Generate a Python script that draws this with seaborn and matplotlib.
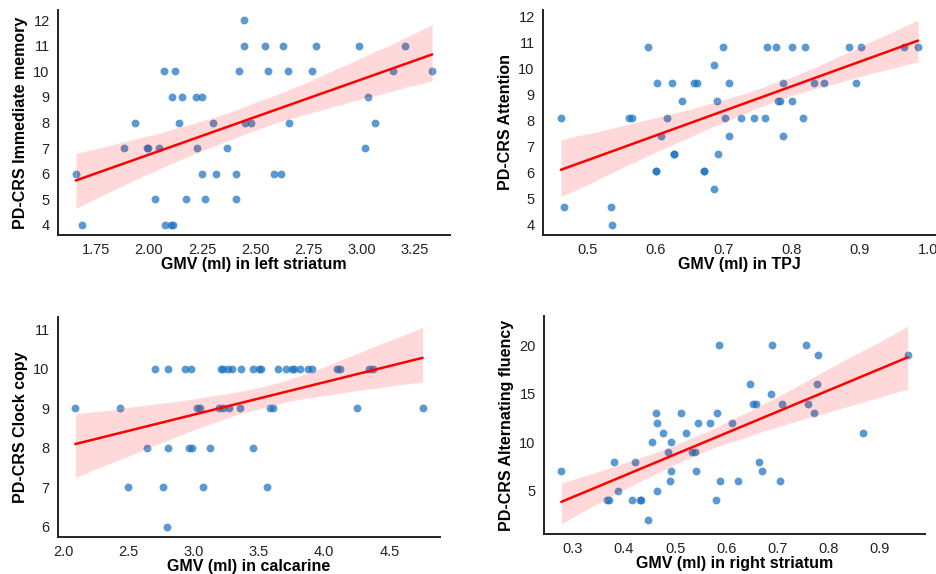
import pandas as pd
import matplotlib.pyplot as plt
import matplotlib.ticker as mticker
import seaborn as sns

# Immediate memory vs GMV in left striatum
memoria_gmv = [2.447,
               2.447, 2.546, 2.630, 2.785, 2.990, 3.205,
               2.072, 2.121, 2.422, 2.559, 2.656, 2.769, 3.146, 3.332,
               2.108, 2.157, 2.223, 2.249, 3.030,
               1.932, 2.141, 2.300, 2.450, 2.479, 2.658, 3.061,
               1.883, 1.989, 1.994, 2.045, 2.227, 2.366, 3.016,
               1.656, 2.248, 2.315, 2.411, 2.587, 2.622,
               2.028, 2.176, 2.262, 2.411,
               1.687, 2.077, 2.105, 2.111]
memoria_score = [12,
                 11, 11, 11, 11, 11, 11,
                 10, 10, 10, 10, 10, 10, 10, 10,
                 9, 9, 9, 9, 9,
                 8, 8, 8, 8, 8, 8, 8,
                 7, 7, 7, 7, 7, 7, 7,
                 6, 6, 6, 6, 6, 6,
                 5, 5, 5, 5,
                 4, 4, 4, 4]

# Attention vs GMV in TPJ
atencao_gmv = [0.588, 0.699, 0.764, 0.777, 0.801, 0.819, 0.884, 0.902, 0.965, 0.986,
               0.685,
               0.602, 0.623, 0.656, 0.661, 0.708, 0.787, 0.833, 0.848, 0.894,
               0.638, 0.690, 0.779, 0.783, 0.800,
               0.460, 0.561, 0.565, 0.616, 0.701, 0.725, 0.745, 0.761, 0.816,
               0.607, 0.708, 0.787,
               0.626, 0.626, 0.691,
               0.600, 0.600, 0.670, 0.670,
               0.686,
               0.464, 0.534,
               0.536]
atencao_score = [10.82] * 10 + [10.14] + [9.45] * 9 + [8.77] * 5 + [8.09] * 9 + \
                [7.41] * 3 + [6.73] * 3 + [6.05] * 4 + [5.36] + [4.68] * 2 + [4.0]

# Clock copy vs GMV in calcarine
relogio_gmv = [2.700, 2.800, 2.928, 2.979, 3.205, 3.226, 3.264, 3.295, 3.362, 3.451,
               3.503, 3.513, 3.644, 3.705, 3.751, 3.769, 3.815, 3.877, 3.903, 4.097,
               4.123, 4.346, 4.372,
               2.090, 2.431, 3.026, 3.046, 3.195, 3.221, 3.269, 3.351, 3.585, 3.610,
               4.249, 4.756,
               2.641, 2.800, 2.962, 2.987, 3.123, 3.454,
               2.492, 2.764, 3.072, 3.559,
               2.797]
relogio_score = [10] * 23 + [9] * 12 + [8] * 6 + [7] * 4 + [6]

# Alternating fluency vs GMV in right striatum
fluencia_gmv = [0.587, 0.690, 0.757,
                0.781, 0.956,
                0.647, 0.779,
                0.689,
                0.653, 0.659, 0.710, 0.760,
                0.463, 0.512, 0.583, 0.773,
                0.464, 0.544, 0.569, 0.612,
                0.477, 0.522, 0.868,
                0.455, 0.492,
                0.487, 0.533, 0.539,
                0.380, 0.422, 0.664,
                0.277, 0.492, 0.542, 0.670,
                0.491, 0.589, 0.624, 0.706,
                0.389, 0.464,
                0.367, 0.371, 0.415, 0.431, 0.434, 0.580,
                0.447]
fluencia_score = [20] * 3 + [19] * 2 + [16] * 2 + [15] + [14] * 4 + [13] * 4 + \
                 [12] * 4 + [11] * 3 + [10] * 2 + [9] * 3 + [8] * 3 + [7] * 4 + \
                 [6] * 4 + [5] * 2 + [4] * 6 + [2]

paineis = [
    (memoria_gmv, memoria_score, 'GMV (ml) in left striatum', 'PD-CRS Immediate memory',
     [58, 10, 450, 235], 0.25, 1),
    (atencao_gmv, atencao_score, 'GMV (ml) in TPJ', 'PD-CRS Attention',
     [543, 10, 936, 235], 0.1, 1),
    (relogio_gmv, relogio_score, 'GMV (ml) in calcarine', 'PD-CRS Clock copy',
     [58, 317, 440, 537], 0.5, 1),
    (fluencia_gmv, fluencia_score, 'GMV (ml) in right striatum', 'PD-CRS Alternating fluency',
     [544, 316, 925, 534], 0.1, 5),
]

sns.set_style('white')
plt.rcParams['font.family'] = ['Liberation Sans', 'DejaVu Sans']

W, H = 937, 574
fig = plt.figure(figsize=(W / 100, H / 100), dpi=100)

for gmv, score, xlabel, ylabel, caixa, passo_x, passo_y in paineis:
    x0, y0, x1, y1 = caixa
    ax = fig.add_axes([x0 / W, 1 - y1 / H, (x1 - x0) / W, (y1 - y0) / H])
    df = pd.DataFrame({'gmv': gmv, 'score': score})
    sns.regplot(x='gmv', y='score', data=df, ax=ax, seed=0,
                scatter_kws={'color': '#1a72c0', 'alpha': 0.72, 's': 32, 'linewidths': 0},
                line_kws={'color': 'red', 'lw': 1.8})
    ax.xaxis.set_major_locator(mticker.MultipleLocator(passo_x))
    ax.yaxis.set_major_locator(mticker.MultipleLocator(passo_y))
    ax.set_xlabel(xlabel, fontsize=11.5, fontweight='bold', labelpad=0, color='black')
    ax.set_ylabel(ylabel, fontsize=11.5, fontweight='bold', labelpad=4, color='black')
    ax.tick_params(labelsize=10.5, colors='#222222', pad=2.5)
    for lado in ['left', 'bottom']:
        ax.spines[lado].set_color('#222222')
        ax.spines[lado].set_linewidth(1.4)
    sns.despine(ax=ax)

plt.savefig('out.png', dpi=100)
